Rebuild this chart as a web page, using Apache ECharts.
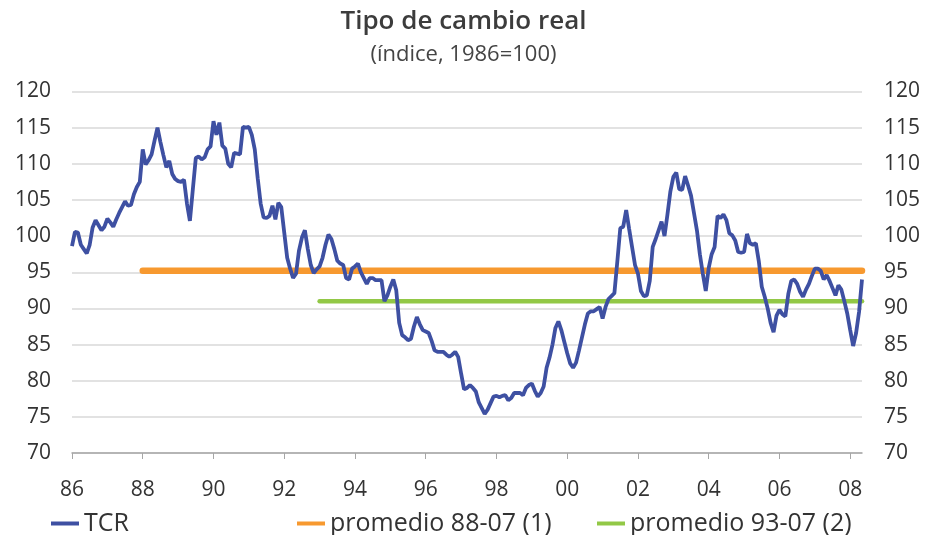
<!DOCTYPE html>
<html>
<head>
<meta charset="utf-8">
<title>Tipo de cambio real</title>
<script src="https://cdn.jsdelivr.net/npm/echarts@6/dist/echarts.min.js"></script>
<style>
html, body { margin: 0; padding: 0; background: #fff; }
#chart { width: 927px; height: 535px; }
</style>
</head>
<body>
<div id="chart"></div>
<script>
// TCR mensual, ene-1986 .. may-2008 (indice, 1986=100), una fila por año
var tcr = [
  98.6, 100.6, 100.5, 98.8, 98.2, 97.6, 98.8, 101.2, 102.2, 101.5, 100.8, 101.3,
  102.4, 101.9, 101.3, 102.3, 103.2, 104.0, 104.8, 104.2, 104.3, 105.8, 106.8, 107.5,
  112.0, 109.9, 110.5, 111.3, 113.2, 115.0, 113.0, 111.2, 109.5, 110.4, 108.6, 107.9,
  107.6, 107.5, 107.8, 104.5, 102.1, 106.5, 110.8, 111.0, 110.6, 110.9, 112.0, 112.4,
  115.9, 114.0, 115.7, 112.5, 112.1, 110.0, 109.5, 111.5, 111.4, 111.3, 115.1, 115.0,
  115.1, 114.0, 112.0, 108.0, 104.5, 102.6, 102.5, 102.8, 104.2, 102.3, 104.6, 104.0,
  100.5, 97.0, 95.5, 94.2, 94.8, 98.0, 99.8, 100.8, 98.2, 96.0, 94.9, 95.4,
  95.8, 97.0, 98.8, 100.2, 99.6, 98.2, 96.6, 96.2, 96.0, 94.2, 94.0, 95.5,
  95.8, 96.2, 95.0, 94.2, 93.4, 94.2, 94.2, 93.9, 93.9, 93.9, 91.0, 91.8,
  93.0, 94.0, 92.5, 88.0, 86.3, 86.0, 85.6, 85.8, 87.5, 88.8, 87.8, 87.0,
  86.8, 86.6, 85.5, 84.2, 84.0, 84.0, 84.0, 83.6, 83.3, 83.6, 84.0, 83.3,
  81.0, 78.8, 79.0, 79.4, 79.0, 78.5, 77.0, 76.2, 75.4, 76.0, 76.9, 77.8,
  77.9, 77.7, 77.9, 78.0, 77.3, 77.6, 78.3, 78.3, 78.3, 78.0, 79.0, 79.4,
  79.6, 78.6, 77.8, 78.3, 79.2, 81.8, 83.2, 85.0, 87.3, 88.2, 87.0, 85.4,
  83.8, 82.4, 81.8, 82.5, 84.2, 86.0, 87.8, 89.3, 89.6, 89.6, 89.9, 90.2,
  88.6, 90.2, 91.3, 91.7, 92.1, 96.5, 101.1, 101.3, 103.6, 101.0, 98.5, 96.0,
  94.8, 92.4, 91.7, 91.8, 93.8, 98.5, 99.6, 100.8, 102.0, 100.0, 103.0, 106.2,
  108.2, 108.8, 106.5, 106.4, 108.3, 107.0, 105.6, 103.2, 100.8, 97.5, 94.8, 92.4,
  95.6, 97.5, 98.5, 102.8, 102.5, 103.0, 102.2, 100.4, 100.1, 99.4, 97.8, 97.7,
  97.8, 100.3, 99.0, 98.8, 99.0, 96.5, 93.0, 91.6, 90.0, 88.0, 86.7, 89.0,
  89.8, 89.2, 88.9, 92.0, 93.8, 94.0, 93.4, 92.3, 91.6, 92.6, 93.4, 94.5,
  95.5, 95.5, 95.2, 94.0, 94.6, 93.8, 92.8, 91.8, 93.2, 92.6, 91.0, 89.3,
  87.0, 84.8, 86.6, 89.5, 94.0
];

// promedios (valor, mes inicial)
var promedio88 = 95.2;
var promedio93 = 91.0;
var inicio88 = '1988-01';
var inicio93 = '1993-01';

var primerAnio = 1986;

// meses como categorias
var meses = [];
for (var i = 0; i < tcr.length; i++) {
  var a = primerAnio + Math.floor(i / 12);
  var m = (i % 12) + 1;
  meses.push(a + '-' + (m < 10 ? '0' + m : m));
}
var ultimo = meses[meses.length - 1];

var colTCR = '#3e50a2';
var colP88 = '#f7992f';
var colP93 = '#92c846';

var labelFont = { fontFamily: 'Open Sans', fontSize: 21, color: '#333' };
var legendFont = { fontFamily: 'Open Sans', fontSize: 25, color: '#333' };

// cada 2 años
function cadaDos(idx) { return idx % 24 === 0; }

var chart = echarts.init(document.getElementById('chart'));

chart.setOption({
  animation: false,
  backgroundColor: '#fff',
  title: {
    text: 'Tipo de cambio real',
    subtext: '(índice, 1986=100)',
    left: 'center',
    top: 4,
    itemGap: 9,
    textStyle: { fontFamily: 'Open Sans', fontSize: 26, fontWeight: 600, color: '#3c3c3c' },
    subtextStyle: { fontFamily: 'Open Sans', fontSize: 22, color: '#444' }
  },
  legend: [
    {
      data: ['TCR'], left: 46, top: 506, icon: 'rect', itemWidth: 28, itemHeight: 4,
      textStyle: legendFont
    },
    {
      data: ['promedio 88-07 (1)'], left: 292, top: 506, icon: 'rect', itemWidth: 28, itemHeight: 4,
      textStyle: legendFont
    },
    {
      data: ['promedio 93-07 (2)'], left: 592, top: 506, icon: 'rect', itemWidth: 28, itemHeight: 4,
      textStyle: legendFont
    }
  ],
  grid: { left: 72, right: 65, top: 91.5, bottom: 82, containLabel: false },
  xAxis: {
    type: 'category',
    data: meses,
    boundaryGap: false,
    axisLine: { lineStyle: { color: '#a6a6a6', width: 1.5 } },
    axisTick: { interval: function (idx) { return cadaDos(idx); }, length: 6, lineStyle: { color: '#a6a6a6' } },
    axisLabel: Object.assign({
      interval: function (idx) { return cadaDos(idx); },
      margin: 27,
      formatter: function (v) { return v.slice(2, 4); }
    }, labelFont),
    splitLine: { show: false }
  },
  yAxis: [
    {
      type: 'value', min: 70, max: 120, interval: 5, position: 'left',
      axisLine: { show: false }, axisTick: { show: false },
      axisLabel: Object.assign({ margin: 21 }, labelFont),
      splitLine: { lineStyle: { color: '#d9d9d9', width: 1.5 } }
    },
    {
      type: 'value', min: 70, max: 120, interval: 5, position: 'right',
      axisLine: { show: false }, axisTick: { show: false },
      axisLabel: Object.assign({ margin: 22 }, labelFont),
      splitLine: { show: false }
    }
  ],
  series: [
    {
      name: 'TCR', type: 'line', data: tcr, showSymbol: false, symbol: 'none',
      color: colTCR, lineStyle: { color: colTCR, width: 3.8 }, z: 3
    },
    {
      name: 'promedio 88-07 (1)', type: 'line', showSymbol: false, symbol: 'none',
      data: [[inicio88, promedio88], [ultimo, promedio88]],
      color: colP88, lineStyle: { color: colP88, width: 6.5, cap: 'round' }, z: 2
    },
    {
      name: 'promedio 93-07 (2)', type: 'line', showSymbol: false, symbol: 'none',
      data: [[inicio93, promedio93], [ultimo, promedio93]],
      color: colP93, lineStyle: { color: colP93, width: 4.5, cap: 'round' }, z: 2
    }
  ]
});
</script>
</body>
</html>
